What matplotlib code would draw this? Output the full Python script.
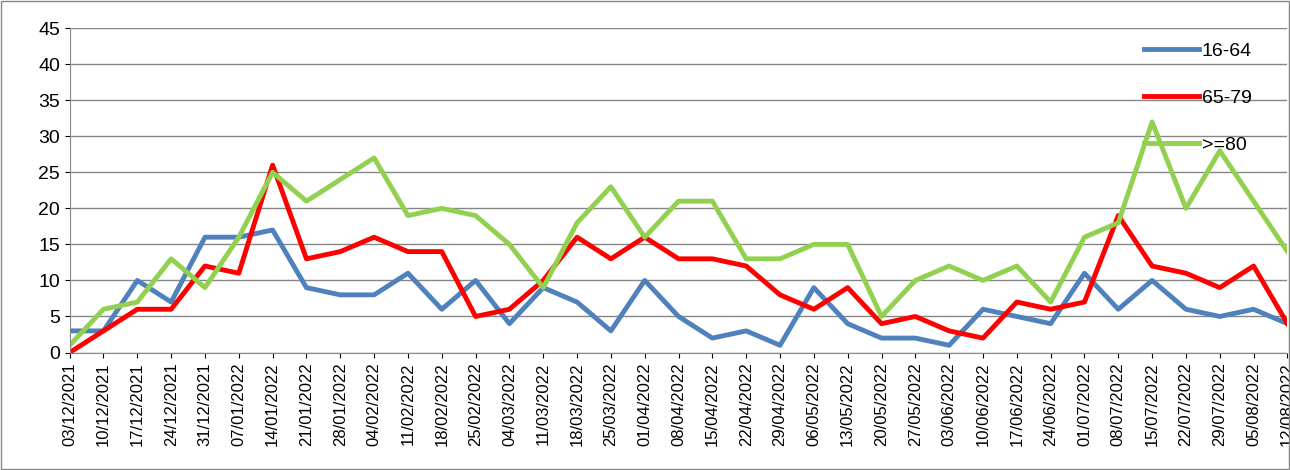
import matplotlib.pyplot as plt
import pandas as pd

dates = pd.date_range('2021-12-03', '2022-08-12', freq='7D').strftime('%d/%m/%Y')
g16_64 = [3, 3, 10, 7, 16, 16, 17, 9, 8, 8, 11, 6, 10, 4, 9, 7, 3, 10, 5, 2, 3, 1, 9, 4, 2,
          2, 1, 6, 5, 4, 11, 6, 10, 6, 5, 6, 4]
g65_79 = [0, 3, 6, 6, 12, 11, 26, 13, 14, 16, 14, 14, 5, 6, 10, 16, 13, 16, 13, 13, 12, 8, 6, 9, 4,
          5, 3, 2, 7, 6, 7, 19, 12, 11, 9, 12, 4]
g80 = [1, 6, 7, 13, 9, 16, 25, 21, 24, 27, 19, 20, 19, 15, 9, 18, 23, 16, 21, 21, 13, 13, 15, 15, 5,
       10, 12, 10, 12, 7, 16, 18, 32, 20, 28, 21, 14]

plt.rcParams['font.family'] = ['Liberation Sans', 'DejaVu Sans']
fig = plt.figure(figsize=(12.9, 4.7), dpi=100)
ax = fig.add_axes([0.054, 0.25, 0.944, 0.69])
x = range(len(dates))
ax.plot(x, g16_64, color='#4f81bd', lw=3.5, label='16-64')
ax.plot(x, g65_79, color='#ff0000', lw=3.5, label='65-79')
ax.plot(x, g80, color='#92d050', lw=3.5, label='>=80')
ax.set_xlim(0, len(dates) - 1)
ax.set_ylim(0, 45)
ax.set_yticks(range(0, 46, 5))
ax.set_xticks(list(x))
ax.set_xticklabels(dates, rotation=90, fontsize=12)
ax.tick_params(axis='y', labelsize=14)
ax.grid(axis='y', color='#868686', lw=1)
for s in ['top', 'right']:
    ax.spines[s].set_visible(False)
ax.spines['left'].set_color('#868686')
ax.spines['bottom'].set_color('#868686')
ax.legend(loc='upper right', bbox_to_anchor=(0.985, 1.01), frameon=False, fontsize=14,
          labelspacing=1.5, handlelength=2.8, handletextpad=0.15)
fig.add_artist(plt.Rectangle((0.001, 0.002), 0.998, 0.996, fill=False, ec='#868686', lw=1,
                             transform=fig.transFigure))
fig.savefig('out.png')
